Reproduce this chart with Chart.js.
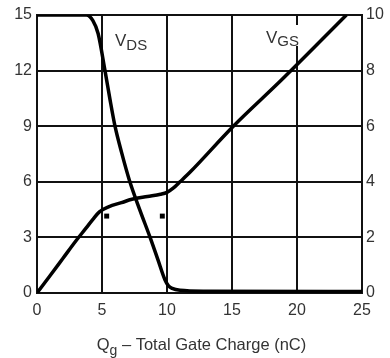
<!DOCTYPE html>
<html>
<head>
<meta charset="utf-8">
<script src="https://cdn.jsdelivr.net/npm/chart.js@4.4.1/dist/chart.umd.min.js"></script>
<style>
  html, body { margin: 0; padding: 0; background: #fff; }
  #wrap { width: 390px; height: 358px; }
</style>
</head>
<body>
<div id="wrap"><canvas id="chart"></canvas></div>
<script>
// gate charge (nC) and voltages
const vdsQ = [0, 3.8, 4.3, 4.7, 5.23, 5.6, 6.0, 6.5, 7.1, 7.9, 8.7, 9.3, 9.85, 10.1, 10.4, 11, 13, 25];
const vdsV = [15, 15, 14.7, 14, 12, 10.5, 9.0, 7.6, 6.1, 4.5, 3, 1.8, 0.7, 0.4, 0.25, 0.15, 0.1, 0.08];

const vgsQ = [0, 1, 2, 3, 3.8, 4.3, 4.8, 5.5, 6.5, 7.3, 8.5, 9.5, 10, 10.5, 11, 11.8, 15.1, 18.8, 23.8];
const vgsV = [0, 0.62, 1.25, 1.88, 2.35, 2.65, 2.92, 3.1, 3.25, 3.37, 3.47, 3.55, 3.62, 3.78, 4.0, 4.36, 6, 7.66, 10];

// Qgs / Qgd markers
const markQ = [5.36, 9.64];
const markV = [4.15, 4.15];

const xTicks = [0, 5, 10, 15, 20, 25];
const leftTicks = [0, 3, 6, 9, 12, 15];
const rightTicks = [0, 2, 4, 6, 8, 10];

const toPts = (xs, ys) => xs.map((x, i) => ({ x: x, y: ys[i] }));

const FAM = "'Liberation Sans', Arial, sans-serif";

// text with a subscript part
function subText(ctx, main, sub, x, y, size, subSize, drop) {
    ctx.font = size + "px " + FAM;
    ctx.fillText(main, x, y);
    let w = ctx.measureText(main).width;
    ctx.font = subSize + "px " + FAM;
    ctx.fillText(sub, x + w, y + drop);
    return w + ctx.measureText(sub).width;
}

const labelsPlugin = {
    id: "labels",
    afterDraw(chart) {
        const ctx = chart.ctx;
        ctx.save();
        ctx.textBaseline = "alphabetic";
        ctx.textAlign = "left";
        // white box behind V_GS
        ctx.fillStyle = "#fff";
        ctx.fillRect(264, 25, 40, 21);
        ctx.fillStyle = "#333";
        subText(ctx, "V", "DS", 115, 46, 17, 15, 4);
        subText(ctx, "V", "GS", 266, 43, 17, 15, 3);

        // axis title
        let rest = " \u2013 Total Gate Charge (nC)";
        ctx.font = "16.5px " + FAM;
        let w1 = ctx.measureText("Q").width;
        let w3 = ctx.measureText(rest).width;
        ctx.font = "14px " + FAM;
        let w2 = ctx.measureText("g").width;
        let x0 = 201.5 - (w1 + w2 + w3) / 2;
        let w = subText(ctx, "Q", "g", x0, 350, 16.5, 14, 5);
        ctx.font = "16.5px " + FAM;
        ctx.fillText(rest, x0 + w, 350);
        ctx.restore();
    }
};

const tickFont = { family: FAM, size: 16 };

new Chart(document.getElementById("chart"), {
    type: "line",
    plugins: [labelsPlugin],
    data: {
        datasets: [
            {
                label: "VDS",
                data: toPts(vdsQ, vdsV),
                yAxisID: "y",
                borderColor: "#000",
                borderWidth: 3.5,
                pointRadius: 0,
                cubicInterpolationMode: "monotone"
            },
            {
                label: "VGS",
                data: toPts(vgsQ, vgsV),
                yAxisID: "y1",
                borderColor: "#000",
                borderWidth: 3.5,
                pointRadius: 0,
                cubicInterpolationMode: "monotone"
            },
            {
                label: "marks",
                data: toPts(markQ, markV),
                yAxisID: "y",
                showLine: false,
                pointStyle: "rect",
                pointRadius: 3.5,
                backgroundColor: "#000",
                borderColor: "#000",
                borderWidth: 0
            }
        ]
    },
    options: {
        responsive: true,
        maintainAspectRatio: false,
        animation: false,
        layout: { padding: { top: 15 } },
        plugins: {
            legend: { display: false },
            tooltip: { enabled: false }
        },
        scales: {
            x: {
                type: "linear",
                min: 0,
                max: 25,
                afterBuildTicks: (s) => { s.ticks = xTicks.map(v => ({ value: v })); },
                afterFit: (s) => { s.height = 65; },
                ticks: { color: "#333", font: tickFont, padding: 8, maxRotation: 0 },
                grid: { color: "#111", lineWidth: 2, drawTicks: false },
                border: { color: "#111", width: 2 }
            },
            y: {
                position: "left",
                min: 0,
                max: 15,
                afterBuildTicks: (s) => { s.ticks = leftTicks.map(v => ({ value: v })); },
                afterFit: (s) => { s.width = 37; },
                ticks: { color: "#333", font: tickFont, padding: 5 },
                grid: { color: "#111", lineWidth: 2, drawTicks: false },
                border: { color: "#111", width: 2 }
            },
            y1: {
                position: "right",
                min: 0,
                max: 10,
                afterBuildTicks: (s) => { s.ticks = rightTicks.map(v => ({ value: v })); },
                afterFit: (s) => { s.width = 28; },
                ticks: { color: "#333", font: tickFont, padding: 4 },
                grid: { display: false, drawTicks: false },
                border: { color: "#111", width: 2 }
            }
        }
    }
});
</script>
</body>
</html>
